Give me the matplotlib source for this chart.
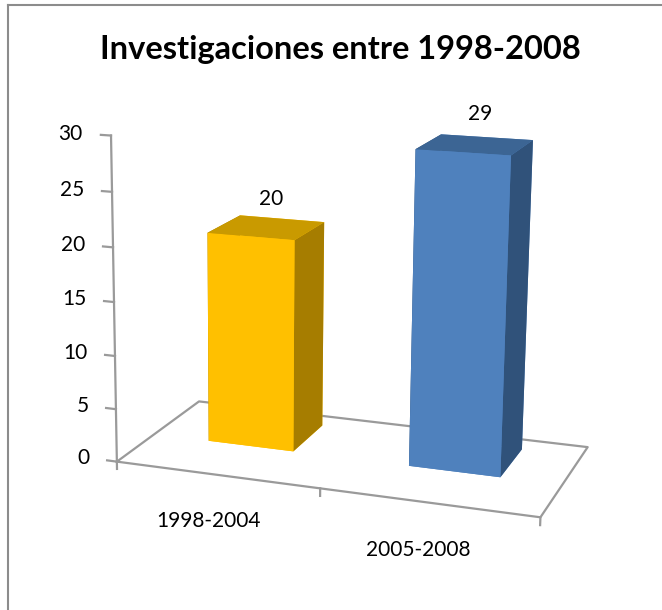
import matplotlib.pyplot as plt
from matplotlib.lines import Line2D
from mpl_toolkits.mplot3d import proj3d

periods = ['1998-2004', '2005-2008']
counts = [20, 29]
front_colors = ['#FFC000', '#4F81BD']
top_colors = ['#C99A00', '#3C6594']
side_colors = ['#A67D00', '#30527A']
value_ticks = [0, 5, 10, 15, 20, 25, 30]

plt.rcParams['font.family'] = ['Lato', 'DejaVu Sans']

fig = plt.figure(figsize=(6.62, 6.10), dpi=100)
# view fitted to the Excel perspective; the x range is widened to the left
# so the camera aims left of the bars, like the original
ax = fig.add_axes([-87 / 662, 10.3 / 610, 1, 1], projection='3d',
                  proj_type='persp', focal_length=0.591,
                  computed_zorder=False)
ax.view_init(elev=14.17, azim=-68.92)
ax.set_xlim(-1.534, 1.5)
ax.set_ylim(0, 1)
ax.set_zlim(0, 30)
ax.set_box_aspect((0.652 * 3.034, 0.648, 1), zoom=1.2)
ax.set_axis_off()

gray = '#9a9a9a'
line_kw = dict(color=gray, lw=1.6, zorder=1, clip_on=False)
# floor outline
ax.plot([-0.5, 1.5, 1.5, -0.5, -0.5], [0, 0, 1, 1, 0], [0, 0, 0, 0, 0],
        **line_kw)
# value axis + ticks
ax.plot([-0.5, -0.5], [0, 0], [0, 30], **line_kw)
for t in value_ticks:
    ax.plot([-0.55, -0.5], [0, 0], [t, t], **line_kw)
# category ticks
for xv in (-0.5, 0.5, 1.5):
    ax.plot([xv, xv], [0, 0], [0, -0.7], **line_kw)

bar_w = 0.432
y_front, y_back = 0.435, 0.855
for i, v in enumerate(counts):
    # face order in bar3d: -z, +z, -y, +y, -x, +x
    faces = [front_colors[i], top_colors[i], front_colors[i],
             front_colors[i], side_colors[i], side_colors[i]]
    ax.bar3d(i - bar_w / 2, y_front, 0, bar_w, y_back - y_front, v,
             color=faces, shade=False, zorder=2 + i, clip_on=False)

M = ax.get_proj()


def label(x, y, z, s, **kw):
    px, py, _ = proj3d.proj_transform(x, y, z, M)
    ax.text2D(px, py, s, transform=ax.transData, fontsize=15,
              clip_on=False, **kw)


for t in value_ticks:
    label(-0.64, 0, t, str(t), ha='right', va='center')
for i, v in enumerate(counts):
    label(i + 0.02, 0.65, v + 2.7, str(v), ha='center', va='center')
    label(i - 0.04, 0, -4.5, periods[i], ha='center', va='center')

fig.text(340 / 662, 1 - 59 / 610, 'Investigaciones entre 1998-2008',
         ha='center', va='baseline', fontsize=23.5, fontweight='bold')

# chart border (left and top edges visible)
fig.add_artist(Line2D([8 / 662, 8 / 662], [0, 1 - 5 / 610],
                      transform=fig.transFigure, color='#8c8c8c', lw=1.5))
fig.add_artist(Line2D([8 / 662, 1], [1 - 5 / 610, 1 - 5 / 610],
                      transform=fig.transFigure, color='#8c8c8c', lw=1.5))

fig.savefig('out.png', dpi=100)
